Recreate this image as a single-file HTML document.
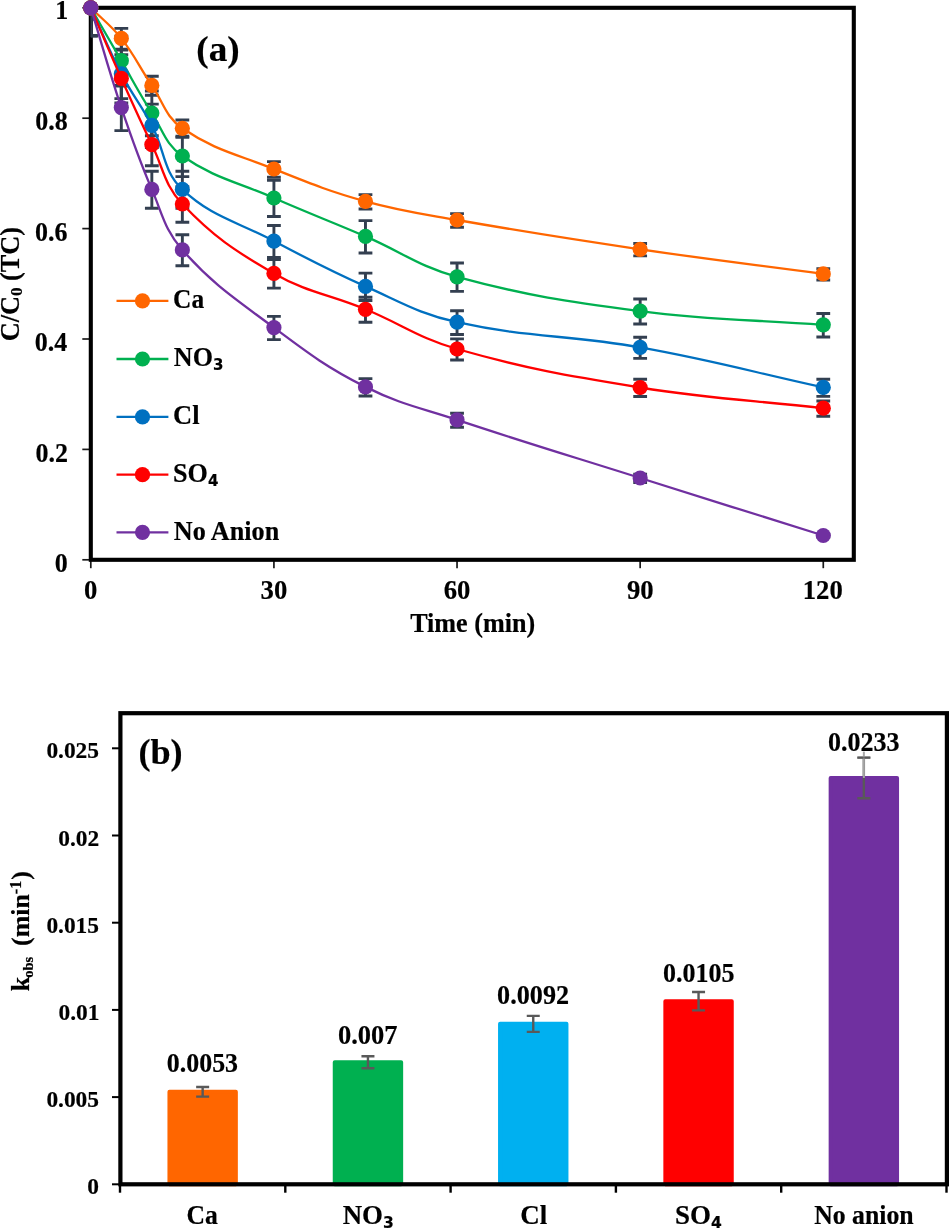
<!DOCTYPE html>
<html lang="en">
<head>
<meta charset="utf-8">
<title>Effect of anions on TC degradation</title>
<style>
html,body{margin:0;padding:0;background:#fff;}
body{width:949px;height:1229px;overflow:hidden;}
svg{display:block;}
</style>
</head>
<body>
<svg width="949" height="1229" viewBox="0 0 949 1229">
<rect x="0" y="0" width="949" height="1229" fill="#ffffff"/>
<defs><clipPath id="pa"><rect x="90.80" y="7.80" width="763.00" height="552.00"/></clipPath></defs>
<g id="chart-a">
<line x1="82.3" y1="559.80" x2="90.80" y2="559.80" stroke="#1a1a1a" stroke-width="1.7"/>
<line x1="82.3" y1="449.40" x2="90.80" y2="449.40" stroke="#1a1a1a" stroke-width="1.7"/>
<line x1="82.3" y1="339.00" x2="90.80" y2="339.00" stroke="#1a1a1a" stroke-width="1.7"/>
<line x1="82.3" y1="228.60" x2="90.80" y2="228.60" stroke="#1a1a1a" stroke-width="1.7"/>
<line x1="82.3" y1="118.20" x2="90.80" y2="118.20" stroke="#1a1a1a" stroke-width="1.7"/>
<line x1="82.3" y1="7.80" x2="90.80" y2="7.80" stroke="#1a1a1a" stroke-width="1.7"/>
<line x1="90.80" y1="559.80" x2="90.80" y2="568.2" stroke="#1a1a1a" stroke-width="1.7"/>
<line x1="273.92" y1="559.80" x2="273.92" y2="568.2" stroke="#1a1a1a" stroke-width="1.7"/>
<line x1="457.04" y1="559.80" x2="457.04" y2="568.2" stroke="#1a1a1a" stroke-width="1.7"/>
<line x1="640.16" y1="559.80" x2="640.16" y2="568.2" stroke="#1a1a1a" stroke-width="1.7"/>
<line x1="823.28" y1="559.80" x2="823.28" y2="568.2" stroke="#1a1a1a" stroke-width="1.7"/>
<rect x="90.80" y="7.80" width="763.00" height="552.00" fill="none" stroke="#000" stroke-width="4.1"/>
<g clip-path="url(#pa)" stroke="#333F50" stroke-width="2.9" fill="none">
<path d="M90.80 -2.84 V19.24 M83.90 -2.84 H97.70 M83.90 19.24 H97.70"/>
<path d="M121.32 28.37 V49.23 M114.42 28.37 H128.22 M114.42 49.23 H128.22"/>
<path d="M151.84 76.31 V95.29 M144.94 76.31 H158.74 M144.94 95.29 H158.74"/>
<path d="M182.36 120.07 V137.33 M175.46 120.07 H189.26 M175.46 137.33 H189.26"/>
<path d="M273.92 161.58 V177.22 M267.02 161.58 H280.82 M267.02 177.22 H280.82"/>
<path d="M365.48 194.63 V208.97 M358.58 194.63 H372.38 M358.58 208.97 H372.38"/>
<path d="M457.04 213.60 V227.20 M450.14 213.60 H463.94 M450.14 227.20 H463.94"/>
<path d="M640.16 243.49 V255.91 M633.26 243.49 H647.06 M633.26 255.91 H647.06"/>
<path d="M823.28 268.58 V280.02 M816.38 268.58 H830.18 M816.38 280.02 H830.18"/>
<path d="M90.80 -19.40 V35.80 M83.90 -19.40 H97.70 M83.90 35.80 H97.70"/>
<path d="M121.32 36.15 V86.06 M114.42 36.15 H128.22 M114.42 86.06 H128.22"/>
<path d="M151.84 91.06 V135.74 M144.94 91.06 H158.74 M144.94 135.74 H158.74"/>
<path d="M182.36 136.21 V176.59 M175.46 136.21 H189.26 M175.46 176.59 H189.26"/>
<path d="M273.92 180.31 V216.49 M267.02 180.31 H280.82 M267.02 216.49 H280.82"/>
<path d="M365.48 220.63 V252.97 M358.58 220.63 H372.38 M358.58 252.97 H372.38"/>
<path d="M457.04 263.05 V291.35 M450.14 263.05 H463.94 M450.14 291.35 H463.94"/>
<path d="M640.16 299.06 V323.94 M633.26 299.06 H647.06 M633.26 323.94 H647.06"/>
<path d="M823.28 313.45 V336.95 M816.38 313.45 H830.18 M816.38 336.95 H830.18"/>
<path d="M90.80 -19.40 V35.80 M83.90 -19.40 H97.70 M83.90 35.80 H97.70"/>
<path d="M121.32 50.01 V98.60 M114.42 50.01 H128.22 M114.42 98.60 H128.22"/>
<path d="M151.84 104.08 V147.52 M144.94 104.08 H158.74 M144.94 147.52 H158.74"/>
<path d="M182.36 171.28 V208.32 M175.46 171.28 H189.26 M175.46 208.32 H189.26"/>
<path d="M273.92 225.56 V257.44 M267.02 225.56 H280.82 M267.02 257.44 H280.82"/>
<path d="M365.48 273.13 V300.47 M358.58 273.13 H372.38 M358.58 300.47 H372.38"/>
<path d="M457.04 310.72 V334.48 M450.14 310.72 H463.94 M450.14 334.48 H463.94"/>
<path d="M640.16 337.18 V358.42 M633.26 337.18 H647.06 M633.26 358.42 H647.06"/>
<path d="M823.28 379.18 V396.42 M816.38 379.18 H830.18 M816.38 396.42 H830.18"/>
<path d="M90.80 -19.40 V35.80 M83.90 -19.40 H97.70 M83.90 35.80 H97.70"/>
<path d="M121.32 54.73 V102.87 M114.42 54.73 H128.22 M114.42 102.87 H128.22"/>
<path d="M151.84 124.24 V165.76 M144.94 124.24 H158.74 M144.94 165.76 H158.74"/>
<path d="M182.36 186.61 V222.19 M175.46 186.61 H189.26 M175.46 222.19 H189.26"/>
<path d="M273.92 259.48 V288.12 M267.02 259.48 H280.82 M267.02 288.12 H280.82"/>
<path d="M365.48 297.18 V322.22 M358.58 297.18 H372.38 M358.58 322.22 H372.38"/>
<path d="M457.04 338.86 V359.94 M450.14 338.86 H463.94 M450.14 359.94 H463.94"/>
<path d="M640.16 379.28 V396.51 M633.26 379.28 H647.06 M633.26 396.51 H647.06"/>
<path d="M823.28 401.02 V416.18 M816.38 401.02 H830.18 M816.38 416.18 H830.18"/>
<path d="M90.80 -19.40 V35.80 M83.90 -19.40 H97.70 M83.90 35.80 H97.70"/>
<path d="M121.32 85.39 V130.61 M114.42 85.39 H128.22 M114.42 130.61 H128.22"/>
<path d="M151.84 171.28 V208.32 M144.94 171.28 H158.74 M144.94 208.32 H158.74"/>
<path d="M182.36 234.81 V265.80 M175.46 234.81 H189.26 M175.46 265.80 H189.26"/>
<path d="M273.92 316.39 V339.61 M267.02 316.39 H280.82 M267.02 339.61 H280.82"/>
<path d="M365.48 378.65 V395.94 M358.58 378.65 H372.38 M358.58 395.94 H372.38"/>
<path d="M457.04 413.30 V427.29 M450.14 413.30 H463.94 M450.14 427.29 H463.94"/>
<path d="M640.16 474.31 V482.49 M633.26 474.31 H647.06 M633.26 482.49 H647.06"/>
<path d="M823.28 534.68 V537.12 M816.38 534.68 H830.18 M816.38 537.12 H830.18"/>
</g>
<path d="M90.80 7.80 C103.01 20.04 110.69 24.88 121.32 38.40 C135.10 55.92 139.25 66.86 151.84 85.40 C163.67 102.82 165.54 116.78 182.36 128.30 C214.37 150.22 236.73 154.15 273.92 169.00 C309.97 183.39 328.15 191.00 365.48 201.40 C401.39 211.40 420.23 213.58 457.04 220.00 C530.10 232.74 566.78 238.50 640.16 249.30 C713.27 260.06 750.03 264.06 823.28 273.90" fill="none" stroke="#FF6600" stroke-width="2.30" stroke-linejoin="round" stroke-linecap="round"/>
<circle cx="90.80" cy="7.80" r="7.60" fill="#FF6600"/>
<circle cx="121.32" cy="38.40" r="7.60" fill="#FF6600"/>
<circle cx="151.84" cy="85.40" r="7.60" fill="#FF6600"/>
<circle cx="182.36" cy="128.30" r="7.60" fill="#FF6600"/>
<circle cx="273.92" cy="169.00" r="7.60" fill="#FF6600"/>
<circle cx="365.48" cy="201.40" r="7.60" fill="#FF6600"/>
<circle cx="457.04" cy="220.00" r="7.60" fill="#FF6600"/>
<circle cx="640.16" cy="249.30" r="7.60" fill="#FF6600"/>
<circle cx="823.28" cy="273.90" r="7.60" fill="#FF6600"/>
<path d="M90.80 7.80 C103.01 28.96 109.06 39.57 121.32 60.70 C133.48 81.65 138.79 92.62 151.84 113.00 C163.20 130.74 165.58 144.32 182.36 156.00 C214.41 178.32 237.03 181.80 273.92 198.00 C310.28 213.96 329.00 220.70 365.48 236.40 C402.25 252.22 418.64 266.36 457.04 276.80 C528.52 296.24 566.38 301.43 640.16 311.10 C712.88 320.63 750.03 319.32 823.28 324.80" fill="none" stroke="#00B050" stroke-width="2.30" stroke-linejoin="round" stroke-linecap="round"/>
<circle cx="90.80" cy="7.80" r="7.60" fill="#00B050"/>
<circle cx="121.32" cy="60.70" r="7.60" fill="#00B050"/>
<circle cx="151.84" cy="113.00" r="7.60" fill="#00B050"/>
<circle cx="182.36" cy="156.00" r="7.60" fill="#00B050"/>
<circle cx="273.92" cy="198.00" r="7.60" fill="#00B050"/>
<circle cx="365.48" cy="236.40" r="7.60" fill="#00B050"/>
<circle cx="457.04" cy="276.80" r="7.60" fill="#00B050"/>
<circle cx="640.16" cy="311.10" r="7.60" fill="#00B050"/>
<circle cx="823.28" cy="324.80" r="7.60" fill="#00B050"/>
<path d="M90.80 7.80 C103.01 34.24 107.92 48.09 121.32 73.90 C132.34 95.13 140.66 104.25 151.84 125.40 C165.08 150.45 162.69 170.76 182.36 189.40 C211.53 217.04 236.77 221.42 273.92 241.10 C310.01 260.22 328.15 269.87 365.48 286.40 C401.40 302.31 418.89 313.73 457.04 322.20 C528.77 338.13 567.42 334.45 640.16 347.40 C713.92 360.53 750.03 371.40 823.28 387.40" fill="none" stroke="#0070C0" stroke-width="2.30" stroke-linejoin="round" stroke-linecap="round"/>
<circle cx="90.80" cy="7.80" r="7.60" fill="#0070C0"/>
<circle cx="121.32" cy="73.90" r="7.60" fill="#0070C0"/>
<circle cx="151.84" cy="125.40" r="7.60" fill="#0070C0"/>
<circle cx="182.36" cy="189.40" r="7.60" fill="#0070C0"/>
<circle cx="273.92" cy="241.10" r="7.60" fill="#0070C0"/>
<circle cx="365.48" cy="286.40" r="7.60" fill="#0070C0"/>
<circle cx="457.04" cy="322.20" r="7.60" fill="#0070C0"/>
<circle cx="640.16" cy="347.40" r="7.60" fill="#0070C0"/>
<circle cx="823.28" cy="387.40" r="7.60" fill="#0070C0"/>
<path d="M90.80 7.80 C103.01 36.04 108.78 50.31 121.32 78.40 C133.20 105.03 139.10 118.38 151.84 144.60 C163.51 168.62 164.41 185.06 182.36 204.00 C213.24 236.58 234.45 250.71 273.92 273.40 C307.70 292.83 329.12 294.29 365.48 309.30 C402.37 324.53 418.82 338.12 457.04 349.00 C528.70 369.40 566.35 375.57 640.16 387.50 C712.85 399.25 750.03 399.92 823.28 408.20" fill="none" stroke="#FF0000" stroke-width="2.30" stroke-linejoin="round" stroke-linecap="round"/>
<circle cx="90.80" cy="7.80" r="7.60" fill="#FF0000"/>
<circle cx="121.32" cy="78.40" r="7.60" fill="#FF0000"/>
<circle cx="151.84" cy="144.60" r="7.60" fill="#FF0000"/>
<circle cx="182.36" cy="204.00" r="7.60" fill="#FF0000"/>
<circle cx="273.92" cy="273.40" r="7.60" fill="#FF0000"/>
<circle cx="365.48" cy="309.30" r="7.60" fill="#FF0000"/>
<circle cx="457.04" cy="349.00" r="7.60" fill="#FF0000"/>
<circle cx="640.16" cy="387.50" r="7.60" fill="#FF0000"/>
<circle cx="823.28" cy="408.20" r="7.60" fill="#FF0000"/>
<path d="M90.80 7.80 C103.01 47.72 108.03 68.05 121.32 107.60 C132.44 140.69 138.09 157.35 151.84 189.40 C162.51 214.27 164.74 229.96 182.36 249.90 C213.58 285.24 235.54 298.88 273.92 327.60 C308.79 353.68 326.77 367.39 365.48 386.90 C400.02 404.31 420.10 407.65 457.04 419.90 C529.97 444.09 566.88 454.87 640.16 478.00 C713.37 501.11 750.03 512.50 823.28 535.50" fill="none" stroke="#7030A0" stroke-width="2.30" stroke-linejoin="round" stroke-linecap="round"/>
<circle cx="90.80" cy="7.80" r="7.60" fill="#7030A0"/>
<circle cx="121.32" cy="107.60" r="7.60" fill="#7030A0"/>
<circle cx="151.84" cy="189.40" r="7.60" fill="#7030A0"/>
<circle cx="182.36" cy="249.90" r="7.60" fill="#7030A0"/>
<circle cx="273.92" cy="327.60" r="7.60" fill="#7030A0"/>
<circle cx="365.48" cy="386.90" r="7.60" fill="#7030A0"/>
<circle cx="457.04" cy="419.90" r="7.60" fill="#7030A0"/>
<circle cx="640.16" cy="478.00" r="7.60" fill="#7030A0"/>
<circle cx="823.28" cy="535.50" r="7.60" fill="#7030A0"/>
<line x1="116.5" y1="300.90" x2="168.4" y2="300.90" stroke="#FF6600" stroke-width="2.30"/>
<circle cx="142.5" cy="300.90" r="7.60" fill="#FF6600"/>
<text transform="translate(173.11 308.10) scale(0.9516 1)" font-family="'Liberation Serif', 'DejaVu Serif', serif" font-weight="bold" font-size="26.67" stroke="#000" stroke-width="0.2" stroke-linejoin="round">Ca</text>
<line x1="116.5" y1="359.00" x2="168.4" y2="359.00" stroke="#00B050" stroke-width="2.30"/>
<circle cx="142.5" cy="359.00" r="7.60" fill="#00B050"/>
<text transform="translate(173.81 366.20) scale(0.9776 1)" font-family="'Liberation Serif', 'DejaVu Serif', serif" font-weight="bold" font-size="26.67" stroke="#000" stroke-width="0.2" stroke-linejoin="round">NO<tspan font-family="'DejaVu Sans', 'Liberation Sans', sans-serif" font-weight="bold" font-size="15.34" dy="4.00">3</tspan></text>
<line x1="116.5" y1="416.90" x2="168.4" y2="416.90" stroke="#0070C0" stroke-width="2.30"/>
<circle cx="142.5" cy="416.90" r="7.60" fill="#0070C0"/>
<text transform="translate(173.06 424.10) scale(0.9920 1)" font-family="'Liberation Serif', 'DejaVu Serif', serif" font-weight="bold" font-size="26.67" stroke="#000" stroke-width="0.2" stroke-linejoin="round">Cl</text>
<line x1="116.5" y1="474.70" x2="168.4" y2="474.70" stroke="#FF0000" stroke-width="2.30"/>
<circle cx="142.5" cy="474.70" r="7.60" fill="#FF0000"/>
<text transform="translate(173.08 481.90) scale(0.9798 1)" font-family="'Liberation Serif', 'DejaVu Serif', serif" font-weight="bold" font-size="26.67" stroke="#000" stroke-width="0.2" stroke-linejoin="round">SO<tspan font-family="'DejaVu Sans', 'Liberation Sans', sans-serif" font-weight="bold" font-size="15.34" dy="4.00">4</tspan></text>
<line x1="116.5" y1="532.30" x2="168.4" y2="532.30" stroke="#7030A0" stroke-width="2.30"/>
<circle cx="142.5" cy="532.30" r="7.60" fill="#7030A0"/>
<text transform="translate(173.81 539.50) scale(0.9812 1)" font-family="'Liberation Serif', 'DejaVu Serif', serif" font-weight="bold" font-size="26.67" stroke="#000" stroke-width="0.2" stroke-linejoin="round">No Anion</text>
<text transform="translate(54.71 572.00) scale(0.9750 1)" font-family="'Liberation Serif', 'DejaVu Serif', serif" font-weight="bold" font-size="26.67" stroke="#000" stroke-width="0.2" stroke-linejoin="round">0</text>
<text transform="translate(35.46 461.60) scale(0.9750 1)" font-family="'Liberation Serif', 'DejaVu Serif', serif" font-weight="bold" font-size="26.67" stroke="#000" stroke-width="0.2" stroke-linejoin="round">0.2</text>
<text transform="translate(34.73 351.20) scale(0.9750 1)" font-family="'Liberation Serif', 'DejaVu Serif', serif" font-weight="bold" font-size="26.67" stroke="#000" stroke-width="0.2" stroke-linejoin="round">0.4</text>
<text transform="translate(34.97 240.80) scale(0.9750 1)" font-family="'Liberation Serif', 'DejaVu Serif', serif" font-weight="bold" font-size="26.67" stroke="#000" stroke-width="0.2" stroke-linejoin="round">0.6</text>
<text transform="translate(35.21 130.40) scale(0.9750 1)" font-family="'Liberation Serif', 'DejaVu Serif', serif" font-weight="bold" font-size="26.67" stroke="#000" stroke-width="0.2" stroke-linejoin="round">0.8</text>
<text transform="translate(55.20 18.60) scale(0.9750 1)" font-family="'Liberation Serif', 'DejaVu Serif', serif" font-weight="bold" font-size="26.67" stroke="#000" stroke-width="0.2" stroke-linejoin="round">1</text>
<text transform="translate(84.05 598.90) scale(1.0000 1)" font-family="'Liberation Serif', 'DejaVu Serif', serif" font-weight="bold" font-size="26.67" stroke="#000" stroke-width="0.2" stroke-linejoin="round">0</text>
<text transform="translate(260.55 598.90) scale(1.0000 1)" font-family="'Liberation Serif', 'DejaVu Serif', serif" font-weight="bold" font-size="26.67" stroke="#000" stroke-width="0.2" stroke-linejoin="round">30</text>
<text transform="translate(443.79 598.90) scale(1.0000 1)" font-family="'Liberation Serif', 'DejaVu Serif', serif" font-weight="bold" font-size="26.67" stroke="#000" stroke-width="0.2" stroke-linejoin="round">60</text>
<text transform="translate(626.91 598.90) scale(1.0000 1)" font-family="'Liberation Serif', 'DejaVu Serif', serif" font-weight="bold" font-size="26.67" stroke="#000" stroke-width="0.2" stroke-linejoin="round">90</text>
<text transform="translate(802.78 598.90) scale(1.0000 1)" font-family="'Liberation Serif', 'DejaVu Serif', serif" font-weight="bold" font-size="26.67" stroke="#000" stroke-width="0.2" stroke-linejoin="round">120</text>
<text transform="translate(410.16 631.50) scale(0.9798 1)" font-family="'Liberation Serif', 'DejaVu Serif', serif" font-weight="bold" font-size="26.67" stroke="#000" stroke-width="0.2" stroke-linejoin="round">Time (min)</text>
<text transform="translate(196.34 60.60) scale(1.0426 1)" font-family="'Liberation Serif', 'DejaVu Serif', serif" font-weight="bold" font-size="35.70" stroke="#000" stroke-width="0.2" stroke-linejoin="round">(a)</text>
<text transform="translate(19.20 341.33) rotate(-90) scale(0.9864 1)" font-family="'Liberation Serif', 'DejaVu Serif', serif" font-weight="bold" font-size="26.67" stroke="#000" stroke-width="0.2" stroke-linejoin="round">C/C<tspan font-size="17.3" dy="3.2">0</tspan><tspan dy="-3.2"> (TC)</tspan></text>
</g>
<g id="chart-b">
<line x1="112" y1="1184.30" x2="120.00" y2="1184.30" stroke="#000" stroke-width="2"/>
<line x1="112" y1="1097.10" x2="120.00" y2="1097.10" stroke="#000" stroke-width="2"/>
<line x1="112" y1="1009.90" x2="120.00" y2="1009.90" stroke="#000" stroke-width="2"/>
<line x1="112" y1="922.70" x2="120.00" y2="922.70" stroke="#000" stroke-width="2"/>
<line x1="112" y1="835.50" x2="120.00" y2="835.50" stroke="#000" stroke-width="2"/>
<line x1="112" y1="748.30" x2="120.00" y2="748.30" stroke="#000" stroke-width="2"/>
<line x1="120.00" y1="1184.30" x2="120.00" y2="1192.7" stroke="#000" stroke-width="2.4"/>
<line x1="285.30" y1="1184.30" x2="285.30" y2="1192.7" stroke="#000" stroke-width="2.4"/>
<line x1="450.60" y1="1184.30" x2="450.60" y2="1192.7" stroke="#000" stroke-width="2.4"/>
<line x1="615.90" y1="1184.30" x2="615.90" y2="1192.7" stroke="#000" stroke-width="2.4"/>
<line x1="781.20" y1="1184.30" x2="781.20" y2="1192.7" stroke="#000" stroke-width="2.4"/>
<line x1="946.50" y1="1184.30" x2="946.50" y2="1192.7" stroke="#000" stroke-width="2.4"/>
<rect x="169.45" y="1091.87" width="66.40" height="92.43" fill="#FF6600" stroke="#FF6600" stroke-width="4" stroke-linejoin="round"/>
<path d="M202.65 1087.07 V1096.67 M196.15 1087.07 H209.15 M196.15 1096.67 H209.15" stroke="#595959" stroke-width="2.4" fill="none"/>
<text transform="translate(166.83 1072.30) scale(0.9720 1)" font-family="'Liberation Serif', 'DejaVu Serif', serif" font-weight="bold" font-size="26.67" stroke="#000" stroke-width="0.2" stroke-linejoin="round">0.0053</text>
<text transform="translate(186.50 1223.80) scale(0.9613 1)" font-family="'Liberation Serif', 'DejaVu Serif', serif" font-weight="bold" font-size="26.67" stroke="#000" stroke-width="0.2" stroke-linejoin="round">Ca</text>
<rect x="334.75" y="1062.22" width="66.40" height="122.08" fill="#00B050" stroke="#00B050" stroke-width="4" stroke-linejoin="round"/>
<path d="M367.95 1056.22 V1068.22 M361.45 1056.22 H374.45 M361.45 1068.22 H374.45" stroke="#595959" stroke-width="2.4" fill="none"/>
<text transform="translate(338.01 1043.50) scale(0.9932 1)" font-family="'Liberation Serif', 'DejaVu Serif', serif" font-weight="bold" font-size="26.67" stroke="#000" stroke-width="0.2" stroke-linejoin="round">0.007</text>
<text transform="translate(342.70 1223.80) scale(1.0082 1)" font-family="'Liberation Serif', 'DejaVu Serif', serif" font-weight="bold" font-size="26.67" stroke="#000" stroke-width="0.2" stroke-linejoin="round">NO<tspan font-family="'DejaVu Sans', 'Liberation Sans', sans-serif" font-weight="bold" font-size="15.34" dy="4.00">3</tspan></text>
<rect x="500.05" y="1023.85" width="66.40" height="160.45" fill="#00B0F0" stroke="#00B0F0" stroke-width="4" stroke-linejoin="round"/>
<path d="M533.25 1015.85 V1031.85 M526.75 1015.85 H539.75 M526.75 1031.85 H539.75" stroke="#595959" stroke-width="2.4" fill="none"/>
<text transform="translate(497.12 1004.20) scale(0.9811 1)" font-family="'Liberation Serif', 'DejaVu Serif', serif" font-weight="bold" font-size="26.67" stroke="#000" stroke-width="0.2" stroke-linejoin="round">0.0092</text>
<text transform="translate(520.24 1223.80) scale(1.0120 1)" font-family="'Liberation Serif', 'DejaVu Serif', serif" font-weight="bold" font-size="26.67" stroke="#000" stroke-width="0.2" stroke-linejoin="round">Cl</text>
<rect x="665.35" y="1001.18" width="66.40" height="183.12" fill="#FF0000" stroke="#FF0000" stroke-width="4" stroke-linejoin="round"/>
<path d="M698.55 991.98 V1010.38 M692.05 991.98 H705.05 M692.05 1010.38 H705.05" stroke="#595959" stroke-width="2.4" fill="none"/>
<text transform="translate(663.03 982.20) scale(0.9748 1)" font-family="'Liberation Serif', 'DejaVu Serif', serif" font-weight="bold" font-size="26.67" stroke="#000" stroke-width="0.2" stroke-linejoin="round">0.0105</text>
<text transform="translate(675.04 1223.80) scale(1.0112 1)" font-family="'Liberation Serif', 'DejaVu Serif', serif" font-weight="bold" font-size="26.67" stroke="#000" stroke-width="0.2" stroke-linejoin="round">SO<tspan font-family="'DejaVu Sans', 'Liberation Sans', sans-serif" font-weight="bold" font-size="15.34" dy="4.00">4</tspan></text>
<rect x="830.65" y="777.95" width="66.40" height="406.35" fill="#7030A0" stroke="#7030A0" stroke-width="4" stroke-linejoin="round"/>
<path d="M863.85 757.65 V798.25 M857.35 757.65 H870.35 M857.35 798.25 H870.35" stroke="#595959" stroke-width="2.4" fill="none"/>
<path d="M863.85 751.60 V777.95" stroke="#A6A6A6" stroke-width="2" fill="none"/>
<path d="M857.35 757.65 H870.35" stroke="#595959" stroke-width="2" stroke-opacity="0.75" fill="none"/>
<text transform="translate(828.03 751.10) scale(0.9748 1)" font-family="'Liberation Serif', 'DejaVu Serif', serif" font-weight="bold" font-size="26.67" stroke="#000" stroke-width="0.2" stroke-linejoin="round">0.0233</text>
<text transform="translate(814.22 1223.80) scale(0.9653 1)" font-family="'Liberation Serif', 'DejaVu Serif', serif" font-weight="bold" font-size="26.67" stroke="#000" stroke-width="0.2" stroke-linejoin="round">No anion</text>
<rect x="120.40" y="713.20" width="826.50" height="471.10" fill="none" stroke="#000" stroke-width="4.2"/>
<text transform="translate(87.33 1194.40) scale(0.9750 1)" font-family="'Liberation Serif', 'DejaVu Serif', serif" font-weight="bold" font-size="24.00" stroke="#000" stroke-width="0.2" stroke-linejoin="round">0</text>
<text transform="translate(46.38 1107.20) scale(0.9750 1)" font-family="'Liberation Serif', 'DejaVu Serif', serif" font-weight="bold" font-size="24.00" stroke="#000" stroke-width="0.2" stroke-linejoin="round">0.005</text>
<text transform="translate(58.57 1020.00) scale(0.9750 1)" font-family="'Liberation Serif', 'DejaVu Serif', serif" font-weight="bold" font-size="24.00" stroke="#000" stroke-width="0.2" stroke-linejoin="round">0.01</text>
<text transform="translate(46.38 932.80) scale(0.9750 1)" font-family="'Liberation Serif', 'DejaVu Serif', serif" font-weight="bold" font-size="24.00" stroke="#000" stroke-width="0.2" stroke-linejoin="round">0.015</text>
<text transform="translate(58.32 845.60) scale(0.9750 1)" font-family="'Liberation Serif', 'DejaVu Serif', serif" font-weight="bold" font-size="24.00" stroke="#000" stroke-width="0.2" stroke-linejoin="round">0.02</text>
<text transform="translate(46.38 758.40) scale(0.9750 1)" font-family="'Liberation Serif', 'DejaVu Serif', serif" font-weight="bold" font-size="24.00" stroke="#000" stroke-width="0.2" stroke-linejoin="round">0.025</text>
<text transform="translate(138.41 764.20) scale(1.0322 1)" font-family="'Liberation Serif', 'DejaVu Serif', serif" font-weight="bold" font-size="35.10" stroke="#000" stroke-width="0.2" stroke-linejoin="round">(b)</text>
<text transform="translate(28.90 991.31) rotate(-90) scale(1.0102 1)" font-family="'Liberation Serif', 'DejaVu Serif', serif" font-weight="bold" font-size="25.60" stroke="#000" stroke-width="0.2" stroke-linejoin="round">k<tspan font-size="14.4" dy="4.2" dx="-0.8">obs</tspan><tspan dy="-4.2" dx="4.3"> (min</tspan><tspan font-size="16" dy="-7.5">-1</tspan><tspan dy="7.5" dx="1">)</tspan></text>
</g>
</svg>
</body>
</html>
